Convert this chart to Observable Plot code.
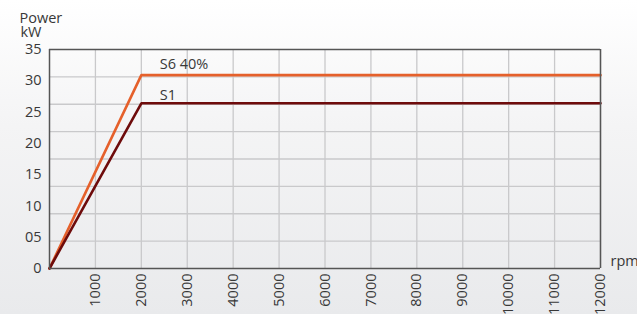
<!DOCTYPE html>
<html>
<head>
<meta charset="utf-8">
<script src="https://cdn.jsdelivr.net/npm/d3@7"></script>
<script src="https://cdn.jsdelivr.net/npm/@observablehq/plot@0.6"></script>
<style>
  html, body { margin: 0; padding: 0; }
  body { width: 637px; height: 314px; overflow: hidden;
         background: linear-gradient(to bottom, #ffffff 0%, #f4f4f5 40%, #e9eaec 100%); }
  svg { display: block; }
</style>
</head>
<body>
<div id="chart"></div>
<script>
// Data
const rpm = [0, 2000, 12000];
const s1 = [0, 26.4, 26.4];        // S1 (continuous)
const s6 = [0, 30.9, 30.9];        // S6 40%
const seriesNames = ["S6 40%", "S1"];
const seriesColors = ["#e5602b", "#6e0b0b"];
const xTicks = [1000, 2000, 3000, 4000, 5000, 6000, 7000, 8000, 9000, 10000, 11000, 12000];
const yTicks = [0, 5, 10, 15, 20, 25, 30, 35];
const yTickLabels = ["0", "05", "10", "15", "20", "25", "30", "35"];
const yGrid = [1, 2, 3, 4, 5, 6, 7].map(i => i * 35 / 8);
const xDomain = [0, 12000];
const yDomain = [0, 35];

const rows = [];
rpm.forEach((r, i) => rows.push({series: "S6 40%", rpm: r, kw: s6[i]}));
rpm.forEach((r, i) => rows.push({series: "S1", rpm: r, kw: s1[i]}));
const labels = [
  {series: "S6 40%", rpm: 2400, kw: s6[1]},
  {series: "S1", rpm: 2400, kw: s1[1]}
];

const font = "'Open Sans', 'Noto Sans', sans-serif";
const textColor = "#383838";

const chart = Plot.plot({
  width: 637,
  height: 314,
  marginLeft: 49,
  marginRight: 37,
  marginTop: 49,
  marginBottom: 46,
  style: {background: "transparent", fontFamily: font, fontSize: "14.5px", color: textColor},
  x: {domain: xDomain},
  y: {domain: yDomain},
  color: {domain: seriesNames, range: seriesColors},
  marks: [
    Plot.ruleX(xTicks, {stroke: "#c9c9cb", strokeWidth: 1.3, strokeOpacity: 1}),
    Plot.ruleY(yGrid, {stroke: "#c9c9cb", strokeWidth: 1.3, strokeOpacity: 1}),
    Plot.line(rows, {x: "rpm", y: "kw", z: "series", stroke: "series", strokeWidth: 2.6, strokeLinejoin: "miter"}),
    Plot.ruleX([xDomain[0], xDomain[1]], {stroke: "#555", strokeWidth: 1.5}),
    Plot.ruleY([yDomain[0], yDomain[1]], {stroke: "#555", strokeWidth: 1.5}),
    Plot.axisY({ticks: yTicks, tickSize: 0, tickPadding: 8, label: null,
      tickFormat: (d) => yTickLabels[yTicks.indexOf(d)], fontSize: 14.5, fill: textColor}),
    Plot.axisX({ticks: xTicks, tickSize: 0, tickPadding: 5, tickRotate: -90, label: null,
      tickFormat: (d) => String(d), fontSize: 14.5, fill: textColor}),
    Plot.text(labels.filter(d => d.series === "S6 40%"), {x: "rpm", y: "kw", text: "series", dy: -11, textAnchor: "start", fill: textColor, fontSize: 14.5}),
    Plot.text(labels.filter(d => d.series === "S1"), {x: "rpm", y: "kw", text: "series", dy: -8, textAnchor: "start", fill: textColor, fontSize: 14.5}),
    Plot.text(["Power"], {frameAnchor: "top-left", text: d => d, dx: -30, dy: -31.5, lineAnchor: "middle", textAnchor: "start", fill: textColor, fontSize: 14.5}),
    Plot.text(["kW"], {frameAnchor: "top-left", text: d => d, dx: -29, dy: -17, lineAnchor: "middle", textAnchor: "start", fill: textColor, fontSize: 14.5}),
    Plot.text(["rpm"], {frameAnchor: "bottom-right", text: d => d, dx: 10, dy: -7, lineAnchor: "middle", textAnchor: "start", fill: textColor, fontSize: 14.5})
  ]
});
document.getElementById("chart").appendChild(chart);
</script>
</body>
</html>
